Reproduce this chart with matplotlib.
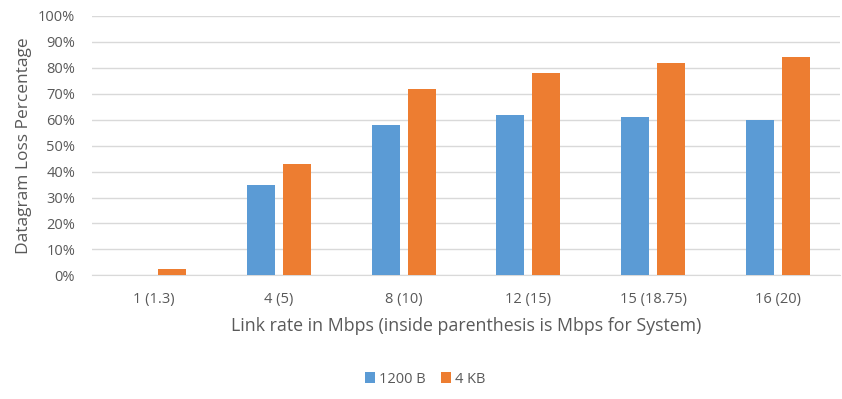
import numpy as np
import matplotlib.pyplot as plt
from matplotlib.ticker import PercentFormatter

# data
categories = ['1 (1.3)', '4 (5)', '8 (10)', '12 (15)', '15 (18.75)', '16 (20)']
loss_1200b = [0, 35, 58, 62, 61, 60]
loss_4kb = [2.5, 43, 72, 78, 82, 84]

plt.rcParams['font.family'] = ['Open Sans', 'DejaVu Sans']
text_color = '#595959'

fig = plt.figure(figsize=(8.42, 3.99), dpi=100)
ax = fig.add_axes([0.109, 0.31, 0.889, 0.65])

x = np.arange(len(categories))
w = 0.224
off = 0.144
ax.bar(x - off, loss_1200b, w, color='#5B9BD5', label='1200 B', zorder=3)
ax.bar(x + off, loss_4kb, w, color='#ED7D31', label='4 KB', zorder=3)

ax.set_xlim(-0.5, len(categories) - 0.5)
ax.set_ylim(0, 100)
ax.set_yticks(np.arange(0, 101, 10))
ax.yaxis.set_major_formatter(PercentFormatter(decimals=0))
ax.set_xticks(x)
ax.set_xticklabels(categories)

ax.grid(axis='y', color='#D9D9D9', linewidth=1, zorder=0)
for s in ['top', 'right', 'left']:
    ax.spines[s].set_visible(False)
ax.spines['bottom'].set_color('#D9D9D9')
ax.tick_params(axis='both', length=0, labelsize=10.5, colors=text_color)
ax.tick_params(axis='x', pad=12)
ax.tick_params(axis='y', pad=12)

ax.set_xlabel('Link rate in Mbps (inside parenthesis is Mbps for System)',
              fontsize=12.8, color=text_color, labelpad=7)
ax.set_ylabel('Datagram Loss Percentage', fontsize=12.5, color=text_color, labelpad=4)

fig.legend(loc='center', bbox_to_anchor=(0.505, 0.05), ncol=2, frameon=False,
           fontsize=10.5, labelcolor=text_color, handlelength=0.7, handleheight=0.7,
           handletextpad=0.3, columnspacing=1.0)

fig.savefig('out.png', dpi=100)
